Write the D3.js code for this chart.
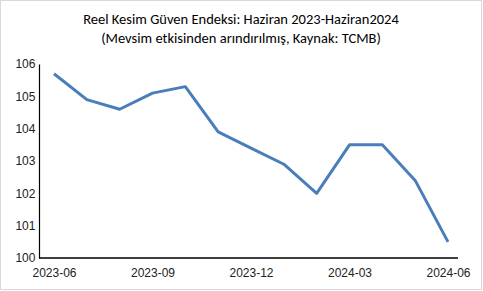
<!DOCTYPE html>
<html>
<head>
<meta charset="utf-8">
<script src="https://cdn.jsdelivr.net/npm/d3@7"></script>
<style>
  body { margin: 0; background: #fff; }
  svg { display: block; font-family: Calibri, Carlito, "Open Sans", sans-serif; }
</style>
</head>
<body>
<svg id="chart" width="483" height="291"></svg>
<script>
// veri
const months = ["2023-06", "2023-07", "2023-08", "2023-09", "2023-10", "2023-11", "2023-12",
                "2024-01", "2024-02", "2024-03", "2024-04", "2024-05", "2024-06"];
const values = [105.7, 104.9, 104.6, 105.1, 105.3, 103.9, 103.4, 102.9, 102.0, 103.5, 103.5, 102.4, 100.5];
const xTickLabels = ["2023-06", "2023-09", "2023-12", "2024-03", "2024-06"];
const yTicks = [100, 101, 102, 103, 104, 105, 106];
const titleLines = ["Reel Kesim Güven Endeksi: Haziran 2023-Haziran2024",
                    "(Mevsim etkisinden arındırılmış, Kaynak: TCMB)"];

const svg = d3.select("#chart");
const margin = { top: 64, right: 18, bottom: 33, left: 39 };
const width = +svg.attr("width") - margin.left - margin.right;
const height = +svg.attr("height") - margin.top - margin.bottom;

// çerçeve
svg.append("rect")
  .attr("x", 0.5).attr("y", 0.5)
  .attr("width", 481).attr("height", 289)
  .attr("fill", "#fff").attr("stroke", "#d9d9d9");

const g = svg.append("g").attr("transform", `translate(${margin.left},${margin.top})`);

const x = d3.scalePoint().domain(months).range([15, 409]);
const y = d3.scaleLinear().domain([100, 106]).range([height, 0]);

// başlık
svg.append("g").selectAll("text")
  .data(titleLines)
  .join("text")
  .attr("x", 241)
  .attr("y", (d, i) => 24 + i * 19)
  .attr("text-anchor", "middle")
  .attr("fill", "#000")
  .style("font-size", "14.5px")
  .text(d => d);

// eksenler
const yAxis = g.append("g")
  .call(d3.axisLeft(y).tickValues(yTicks).tickSize(0).tickPadding(6).tickFormat(d3.format("d")));
yAxis.select(".domain").attr("stroke", "#000").attr("stroke-width", 1.2);
yAxis.selectAll("text").style("font-size", "12px").attr("fill", "#222").attr("dx", "0.2em");

const xAxis = g.append("g")
  .attr("transform", `translate(0,${height})`)
  .call(d3.axisBottom(x).tickValues(xTickLabels).tickSize(0).tickPadding(10));
xAxis.select(".domain").attr("d", `M0,0H${width - 7}`).attr("stroke", "#000").attr("stroke-width", 1.5);
xAxis.selectAll("text").style("font-size", "12px").attr("fill", "#222");

// çizgi
const line = d3.line()
  .x((d, i) => x(months[i]))
  .y(d => y(d));

g.append("path")
  .datum(values)
  .attr("fill", "none")
  .attr("stroke", "#4a7ebb")
  .attr("stroke-width", 3)
  .attr("stroke-linejoin", "round")
  .attr("d", line);
</script>
</body>
</html>
